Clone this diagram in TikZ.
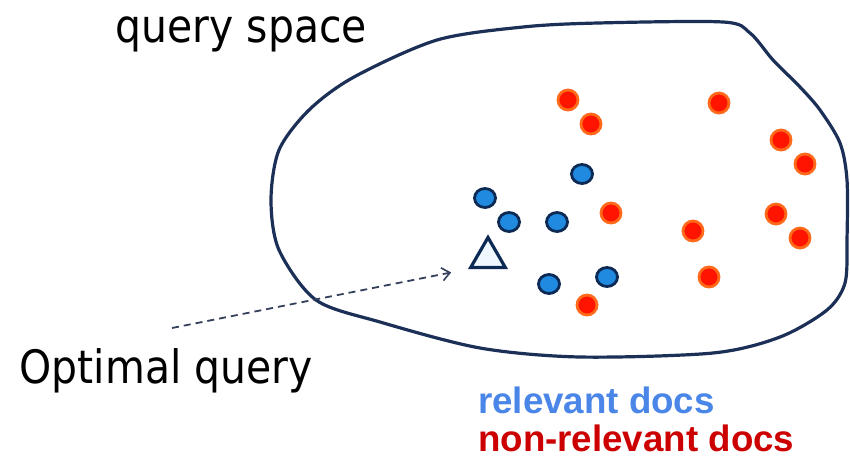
\documentclass[tikz,border=0pt]{standalone}
\usepackage{fontspec}
\setmainfont{DejaVu Sans}
\newfontfamily\labelfont[FakeStretch=0.89]{DejaVu Sans}
\newfontfamily\legendfont[BoldFont={Liberation Sans Bold}]{Liberation Sans}
\usetikzlibrary{shapes.geometric,arrows.meta}
\definecolor{outline}{HTML}{1B2F57}
\definecolor{dotblue}{HTML}{1F8AE0}
\definecolor{dotedge}{HTML}{0D2A55}
\definecolor{dotred}{HTML}{FF1400}
\definecolor{dotorange}{HTML}{FF6A1A}
\definecolor{arrowgray}{HTML}{34405C}
\definecolor{legblue}{HTML}{4A86E8}
\definecolor{legred}{HTML}{CC0000}
\definecolor{trifill}{HTML}{F0F8FF}
\tikzset{
  bigtext/.style={inner sep=0pt, anchor=base west, font=\labelfont\fontsize{46}{50}\selectfont},
  legend/.style={inner sep=0pt, anchor=base west, font=\legendfont\bfseries\fontsize{36.7}{40}\selectfont},
  reldoc/.style={ellipse, minimum width=21pt, minimum height=19pt, inner sep=0pt,
    fill=dotblue, draw=dotedge, line width=2.8pt},
  nonreldoc/.style={circle, minimum size=20pt, inner sep=0pt,
    fill=dotred, draw=dotorange, line width=2.8pt},
  querymark/.style={regular polygon, regular polygon sides=3, minimum size=40pt,
    inner sep=0pt, fill=trifill, draw=dotedge, line width=3.2pt},
  pointer/.style={draw=arrowgray, line width=1.8pt, dash pattern=on 7pt off 5pt,
    -{Straight Barb[length=8pt,width=13pt,line width=1.6pt]}}
}
\begin{document}
\begin{tikzpicture}[x=1pt,y=-1pt]
\path[use as bounding box, fill=white] (0,0) rectangle (850,459);

% boundary of the query space
\draw[outline, line width=3.2pt]
  plot[smooth cycle, tension=0.5] coordinates {
    (723,22) (750,33) (773,60) (800,87) (820,110) (840,143) (847,180)
    (847,240) (845,283) (827,310) (780,337) (713,353) (580,357) (480,348)
    (380,322) (316,300) (279,250) (271,200) (279,150) (309,110) (354,77)
    (437,40) (523,27) (598,23)};

% labels
\node[bigtext] (title) at (115.5,42) {query space};
\node[bigtext] (opt) at (19.5,383) {Optimal query};
\node[legend, text=legblue] (leg1) at (478,413) {relevant docs};
\node[legend, text=legred] (leg2) at (478,451) {non-relevant docs};

% relevant documents
\node[reldoc] (b1) at (485,198) {};
\node[reldoc] (b2) at (509,222) {};
\node[reldoc] (b3) at (557,222) {};
\node[reldoc] (b4) at (582,174) {};
\node[reldoc] (b5) at (607,277) {};
\node[reldoc] (b6) at (549,284) {};

% non-relevant documents
\node[nonreldoc] (r1) at (568,100) {};
\node[nonreldoc] (r2) at (591,124) {};
\node[nonreldoc] (r3) at (719,103) {};
\node[nonreldoc] (r4) at (781,140) {};
\node[nonreldoc] (r5) at (805,164) {};
\node[nonreldoc] (r6) at (611,213) {};
\node[nonreldoc] (r7) at (693,231) {};
\node[nonreldoc] (r8) at (776,214) {};
\node[nonreldoc] (r9) at (800,238) {};
\node[nonreldoc] (r10) at (709,277) {};
\node[nonreldoc] (r11) at (587,305) {};

% optimal query
\node[querymark] (q) at (488,257.5) {};
\coordinate (qstart) at (172,328);
\draw[pointer, shorten >=17pt] (qstart) -- (q.corner 2);
\end{tikzpicture}
\end{document}
